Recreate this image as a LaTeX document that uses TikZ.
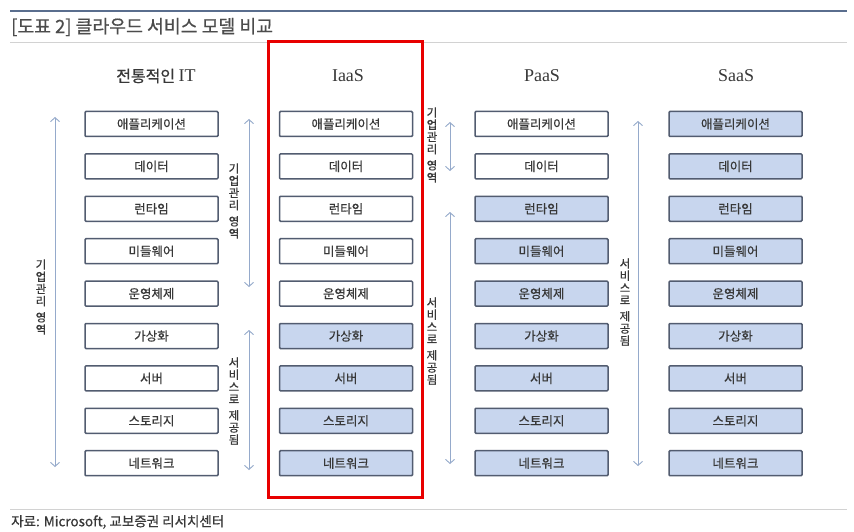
\documentclass[tikz,border=0pt]{standalone}
\usepackage{fontspec}
\setmainfont{Noto Sans CJK KR}[FakeBold=0.6]
\newfontfamily\latinserif{Liberation Serif}
\usetikzlibrary{arrows.meta}
\definecolor{boxline}{HTML}{525C70}
\definecolor{boxfill}{HTML}{C8D6EE}
\definecolor{txt}{HTML}{383838}
\definecolor{arrowc}{HTML}{95AACB}
\definecolor{topline}{HTML}{5A6E8E}
\definecolor{grayline}{HTML}{D2D2D2}
\definecolor{frame}{HTML}{E80000}
\begin{document}
\begin{tikzpicture}[x=1pt,y=-1pt,
  layer/.style={draw=boxline, line width=1.5pt, rounded corners=1pt,
    minimum width=133pt, minimum height=25pt, inner sep=0pt,
    font=\fontsize{12.5}{14}\selectfont, text=txt},
  own/.style={layer, fill=white},
  prov/.style={layer, fill=boxfill},
  header/.style={font=\fontsize{16}{19}\selectfont, text=txt, inner sep=0pt},
  spanarrow/.style={draw=arrowc, line width=0.9pt,
    {Straight Barb[length=4pt,width=9pt]}-{Straight Barb[length=4pt,width=9pt]}},
  vlabel/.style={font=\fontsize{11.5}{12.2}\selectfont, text=txt, align=center, inner sep=0pt}]
\useasboundingbox (0,0) rectangle (854,532);
\fill[white] (0,0) rectangle (854,532);

% title rules and texts
\coordinate (tl1) at (10,11); \coordinate (tl2) at (847,11);
\draw[topline, line width=2.2pt] (tl1) -- (tl2);
\coordinate (gl1) at (10,43); \coordinate (gl2) at (847,43);
\draw[grayline, line width=1pt] (gl1) -- (gl2);
\node[anchor=west, font=\fontsize{18.3}{20}\selectfont, text=txt!90, inner sep=0pt] (title) at (11,27) {[도표 2] 클라우드 서비스 모델 비교};
\coordinate (bl1) at (10,509); \coordinate (bl2) at (847,509);
\draw[grayline, line width=1pt] (bl1) -- (bl2);
\node[anchor=west, font=\fontsize{13.5}{15}\selectfont, text=txt, inner sep=0pt] (source) at (11,522) {자료: Microsoft, 교보증권 리서치센터};

% headers
\node[header] (h1) at (156,76) {전통적인 {\latinserif\fontsize{18}{19}\selectfont IT}};
\node[header] (h2) at (348,76) {\latinserif\fontsize{18}{19}\selectfont IaaS};
\node[header] (h3) at (542,76) {\latinserif\fontsize{18}{19}\selectfont PaaS};
\node[header] (h4) at (736,76) {\latinserif\fontsize{18}{19}\selectfont SaaS};

% boxes
\foreach \t [count=\i] in {애플리케이션,데이터,런타임,미들웨어,운영체제,가상화,서버,스토리지,네트워크} {
  \pgfmathsetmacro\yy{124+42.4*(\i-1)}
  \node[own] (a\i) at (151.5,\yy) {\t};
  \ifnum\i>5
    \node[prov] (b\i) at (346,\yy) {\t};
  \else
    \node[own] (b\i) at (346,\yy) {\t};
  \fi
  \ifnum\i>2
    \node[prov] (c\i) at (541.5,\yy) {\t};
  \else
    \node[own] (c\i) at (541.5,\yy) {\t};
  \fi
  \node[prov] (d\i) at (735.5,\yy) {\t};
}

% red frame
\node[draw=frame, line width=3pt, minimum width=154pt, minimum height=455pt, inner sep=0pt] (iaasframe) at (345,269.5) {};

% span arrows
\coordinate (s1t) at (55,117); \coordinate (s1b) at (55,467);
\draw[spanarrow] (s1t) -- (s1b);
\node[vlabel] (l1) at (41,297) {기\\업\\관\\리\\[4pt]영\\역};

\coordinate (s2t) at (249,119); \coordinate (s2b) at (249,287);
\draw[spanarrow] (s2t) -- (s2b);
\node[vlabel] (l2) at (234,201) {기\\업\\관\\리\\[4pt]영\\역};

\coordinate (s3t) at (249,330); \coordinate (s3b) at (249,470);
\draw[spanarrow] (s3t) -- (s3b);
\node[vlabel] (l3) at (234,401) {서\\비\\스\\로\\[4pt]제\\공\\됨};

\coordinate (s4t) at (450,122); \coordinate (s4b) at (450,171);
\draw[spanarrow] (s4t) -- (s4b);
\node[vlabel] (l4) at (432,145) {기\\업\\관\\리\\[4pt]영\\역};

\coordinate (s5t) at (450,212); \coordinate (s5b) at (450,464);
\draw[spanarrow] (s5t) -- (s5b);
\node[vlabel] (l5) at (432,341) {서\\비\\스\\로\\[4pt]제\\공\\됨};

\coordinate (s6t) at (638,121); \coordinate (s6b) at (638,466);
\draw[spanarrow] (s6t) -- (s6b);
\node[vlabel] (l6) at (625,302) {서\\비\\스\\로\\[4pt]제\\공\\됨};
\end{tikzpicture}
\end{document}
